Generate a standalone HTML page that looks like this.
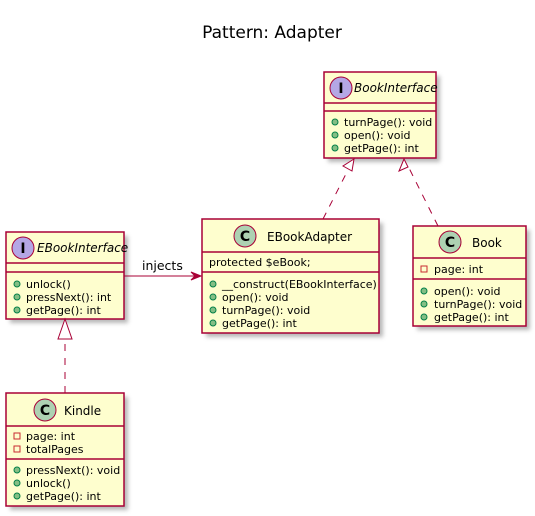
<!DOCTYPE html>
<html><head><meta charset="utf-8"><style>
html,body{margin:0;padding:0;background:#fff;}
svg{display:block;}
text{font-family:"DejaVu Sans","Liberation Sans",sans-serif;fill:#000;}
.m{font-size:11px;}
.n{font-size:12px;}
</style></head><body>
<svg width="535" height="516" viewBox="0 0 535 516" xmlns="http://www.w3.org/2000/svg">
<defs>
<filter id="sh" x="-10%" y="-10%" width="130%" height="130%"><feGaussianBlur stdDeviation="2"/></filter>
</defs>
<text x="272" y="38" text-anchor="middle" style="font-size:17px">Pattern: Adapter</text>

<g fill="#999" filter="url(#sh)" opacity="0.7">
<rect x="328" y="76" width="112" height="86"/>
<rect x="206" y="223" width="177" height="114"/>
<rect x="417" y="230" width="113" height="100"/>
<rect x="10" y="236" width="118" height="87"/>
<rect x="10" y="397" width="118" height="113"/>
</g>

<g fill="#FEFECE" stroke="#A80036" stroke-width="1.5">
<rect x="324" y="72" width="112" height="86"/>
<rect x="202" y="219" width="177" height="114"/>
<rect x="413" y="226" width="113" height="100"/>
<rect x="6" y="232" width="118" height="87"/>
<rect x="6" y="393" width="118" height="113"/>
</g>
<g stroke="#A80036" stroke-width="1.5">
<line x1="324" y1="103" x2="436" y2="103"/><line x1="324" y1="111" x2="436" y2="111"/>
<line x1="202" y1="252" x2="379" y2="252"/><line x1="202" y1="272" x2="379" y2="272"/>
<line x1="413" y1="258" x2="526" y2="258"/><line x1="413" y1="279" x2="526" y2="279"/>
<line x1="6" y1="263" x2="124" y2="263"/><line x1="6" y1="272" x2="124" y2="272"/>
<line x1="6" y1="426" x2="124" y2="426"/><line x1="6" y1="459" x2="124" y2="459"/>
</g>

<g stroke="#A80036" stroke-width="1">
<circle cx="341" cy="88" r="11" fill="#B4A7E5"/>
<circle cx="245" cy="236" r="11" fill="#ADD1B2"/>
<circle cx="450" cy="242" r="11" fill="#ADD1B2"/>
<circle cx="23" cy="248" r="11" fill="#B4A7E5"/>
<circle cx="45" cy="410" r="11" fill="#ADD1B2"/>
</g>
<g style="font-size:14px;font-weight:bold" text-anchor="middle">
<text x="341" y="93">I</text>
<text x="245" y="241">C</text>
<text x="450" y="247">C</text>
<text x="23" y="253">I</text>
<text x="45" y="415">C</text>
</g>
<text class="n" x="354" y="92" font-style="italic">BookInterface</text>
<text class="n" x="267" y="241">EBookAdapter</text>
<text class="n" x="472" y="247">Book</text>
<text class="n" x="37" y="252" font-style="italic">EBookInterface</text>
<text class="n" x="64" y="415">Kindle</text>

<g fill="#84BE84" stroke="#038048" stroke-width="1">
<circle cx="335" cy="122" r="3"/><circle cx="335" cy="135" r="3"/><circle cx="335" cy="148" r="3"/>
<circle cx="213" cy="284" r="3"/><circle cx="213" cy="297" r="3"/><circle cx="213" cy="310" r="3"/><circle cx="213" cy="323" r="3"/>
<circle cx="424" cy="291" r="3"/><circle cx="424" cy="304" r="3"/><circle cx="424" cy="317" r="3"/>
<circle cx="17" cy="284" r="3"/><circle cx="17" cy="297" r="3"/><circle cx="17" cy="310" r="3"/>
<circle cx="17" cy="470" r="3"/><circle cx="17" cy="483" r="3"/><circle cx="17" cy="496" r="3"/>
</g>
<g fill="none" stroke="#C82930" stroke-width="1">
<rect x="421" y="266" width="6" height="6"/>
<rect x="14" y="433" width="6" height="6"/><rect x="14" y="446" width="6" height="6"/>
</g>

<g class="m">
<text x="344" y="126">turnPage(): void</text>
<text x="344" y="139">open(): void</text>
<text x="344" y="152">getPage(): int</text>
<text x="209" y="266">protected $eBook;</text>
<text x="222" y="288">__construct(EBookInterface)</text>
<text x="222" y="301">open(): void</text>
<text x="222" y="314">turnPage(): void</text>
<text x="222" y="327">getPage(): int</text>
<text x="434" y="273">page: int</text>
<text x="434" y="295">open(): void</text>
<text x="434" y="308">turnPage(): void</text>
<text x="434" y="321">getPage(): int</text>
<text x="26" y="288">unlock()</text>
<text x="26" y="301">pressNext(): int</text>
<text x="26" y="314">getPage(): int</text>
<text x="26" y="440">page: int</text>
<text x="26" y="453">totalPages</text>
<text x="26" y="474">pressNext(): void</text>
<text x="26" y="487">unlock()</text>
<text x="26" y="500">getPage(): int</text>
</g>

<g stroke="#A80036" stroke-width="1" fill="none">
<line x1="323" y1="219" x2="349" y2="168" stroke-dasharray="7,7"/>
<polygon points="354,159 343,166 352,171" fill="#fff"/>
<line x1="438" y1="226" x2="409" y2="168" stroke-dasharray="7,7"/>
<polygon points="404,159 399,171 408,167" fill="#fff"/>
<line x1="65" y1="393" x2="65" y2="339" stroke-dasharray="7,7"/>
<polygon points="65,319 58,339 72,339" fill="#fff"/>
<line x1="124" y1="276" x2="200" y2="276"/>
<polygon points="201,276 191,272 195,276 191,280" fill="#A80036"/>
</g>
<text x="142" y="270" style="font-size:12.5px">injects</text>
</svg>
</body></html>
